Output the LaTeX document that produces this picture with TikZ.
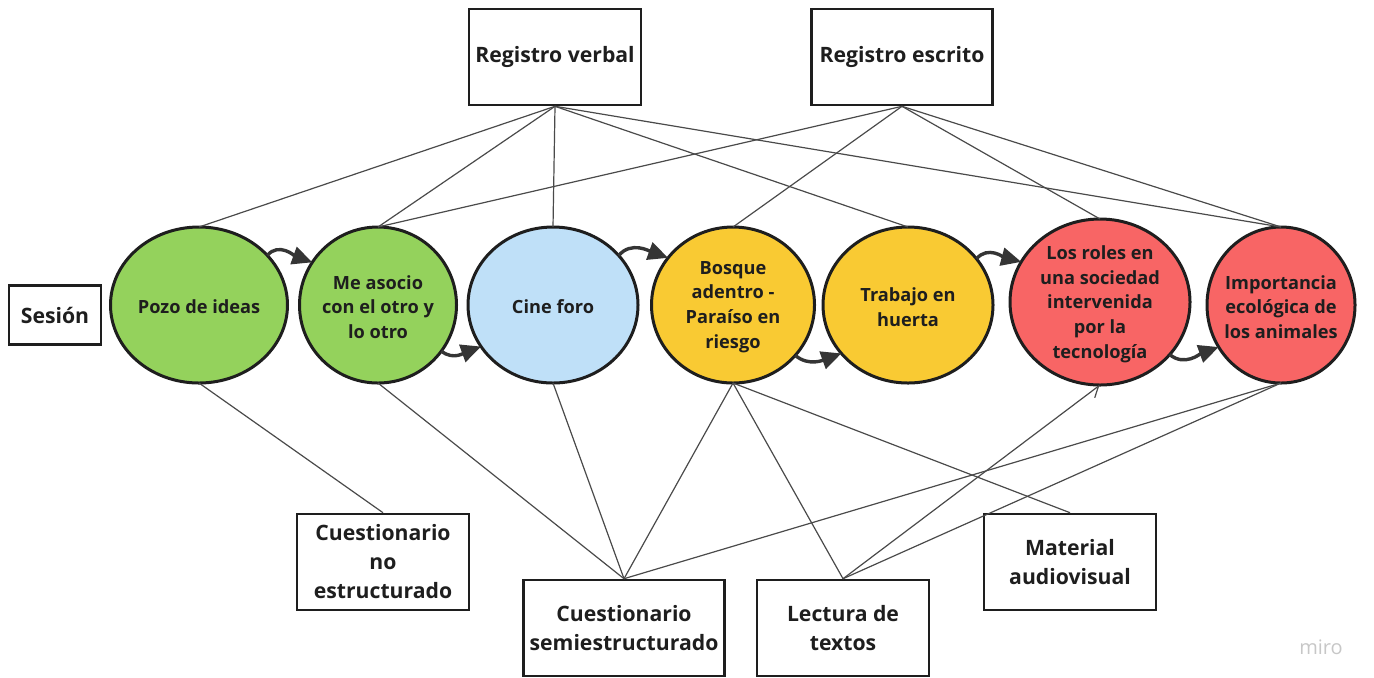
\documentclass[tikz,border=0pt]{standalone}
\usepackage{fontspec}
\setmainfont{Open Sans}
\usetikzlibrary{shapes.geometric,arrows.meta}

\definecolor{stgreen}{HTML}{94D25C}
\definecolor{stblue}{HTML}{BFE0F8}
\definecolor{styellow}{HTML}{F9CA33}
\definecolor{stred}{HTML}{F86565}
\definecolor{ink}{HTML}{1E1E1E}
\definecolor{wire}{HTML}{4A4A4A}

\tikzset{
    box/.style={draw=ink, line width=1.3pt, align=center, inner sep=2pt, text=ink,
        font=\bfseries\fontsize{10.6}{14.5}\selectfont},
    stage/.style 2 args={ellipse, draw=ink, line width=1.5pt, fill=#1, minimum width=#2,
        minimum height=78pt, inner sep=0pt, outer sep=0pt},
    stagetxt/.style={align=center, text=ink, yshift=-1pt, font=\bfseries\fontsize{9.1}{12.35}\selectfont},
    link/.style={draw=wire, line width=0.6pt},
    flow/.style={draw=ink!90, line width=1.7pt, -{Triangle[length=10pt,width=9pt]}}
}

\begin{document}
\begin{tikzpicture}[x=0.5pt, y=-0.5pt]
    \useasboundingbox (0,0) rectangle (1374,677);

    \node[box, minimum width=46pt, minimum height=29.5pt] (ses) at (55,315) {Sesión};
    \node[box, minimum width=86pt, minimum height=48pt] (rv) at (555,57) {Registro verbal};
    \node[box, minimum width=90.5pt, minimum height=48pt] (re) at (902,57) {Registro escrito};
    \node[box, minimum width=86pt, minimum height=48pt] (cne) at (383,562) {Cuestionario\\no\\estructurado};
    \node[box, minimum width=100.5pt, minimum height=48pt] (cse) at (624,628) {Cuestionario\\semiestructurado};
    \node[box, minimum width=86pt, minimum height=48pt] (lec) at (843,628) {Lectura de\\textos};
    \node[box, minimum width=86pt, minimum height=48pt] (mat) at (1070,562) {Material\\audiovisual};

    \node[stage={stgreen}{88.5pt}, label={[stagetxt]center:Pozo de ideas}] (pozo) at (199,305) {};
    \node[stage={stgreen}{78.5pt}, label={[stagetxt]center:{Me asocio\\con el otro y\\lo otro}}] (asoc) at (378,305) {};
    \node[stage={stblue}{85pt}, label={[stagetxt]center:Cine foro}] (cine) at (553,305) {};
    \node[stage={styellow}{81.5pt}, label={[stagetxt]center:{Bosque\\adentro -\\Paraíso en\\riesgo}}] (bosq) at (733,305) {};
    \node[stage={styellow}{85pt}, label={[stagetxt]center:{Trabajo en\\huerta}}] (trab) at (908,305) {};
    \node[stage={stred}{90pt}, minimum height=83pt, label={[stagetxt]center:{Los roles en\\una sociedad\\intervenida\\por la\\tecnología}}] (roles) at (1100,302) {};
    \node[stage={stred}{74pt}, label={[stagetxt]center:{Importancia\\ecológica de\\los animales}}] (imp) at (1281,305) {};

    \draw[link] (rv.south) -- (pozo.north);
    \draw[link] (rv.south) -- (asoc.north);
    \draw[link] (rv.south) -- (cine.north);
    \draw[link] (rv.south) -- (trab.north);
    \draw[link] (rv.south) -- (imp.north);
    \draw[link] (re.south) -- (asoc.north);
    \draw[link] (re.south) -- (bosq.north);
    \draw[link] (re.south) -- (roles.north);
    \draw[link] (re.south) -- (imp.north);
    \draw[link] (cne.north) -- (pozo.south);
    \draw[link] (cse.north) -- (asoc.south);
    \draw[link] (cse.north) -- (cine.south);
    \draw[link] (cse.north) -- (bosq.south);
    \draw[link] (cse.north) -- (imp.south);
    \draw[link] (lec.north) -- (bosq.south);
    \draw[link, -{Straight Barb[harpoon,swap,length=5pt,width=7pt]}] (lec.north) -- (roles.south);
    \draw[link] (lec.north) -- (imp.south);
    \draw[link] (mat.north) -- (bosq.south);

    \draw[flow] (pozo.36) to[out=50, in=160] (asoc.147);
    \draw[flow] (asoc.324) to[out=-40, in=200] (cine.210);
    \draw[flow] (cine.37) to[out=50, in=160] (bosq.144);
    \draw[flow] (bosq.321) to[out=-40, in=200] (trab.216);
    \draw[flow] (trab.34) to[out=50, in=165] (roles.153);
    \draw[flow] (roles.323) to[out=-40, in=200] (imp.214);

    \node[text=black!22, font=\fontsize{10}{12}\selectfont] (miro) at (1321,647) {miro};
\end{tikzpicture}
\end{document}
